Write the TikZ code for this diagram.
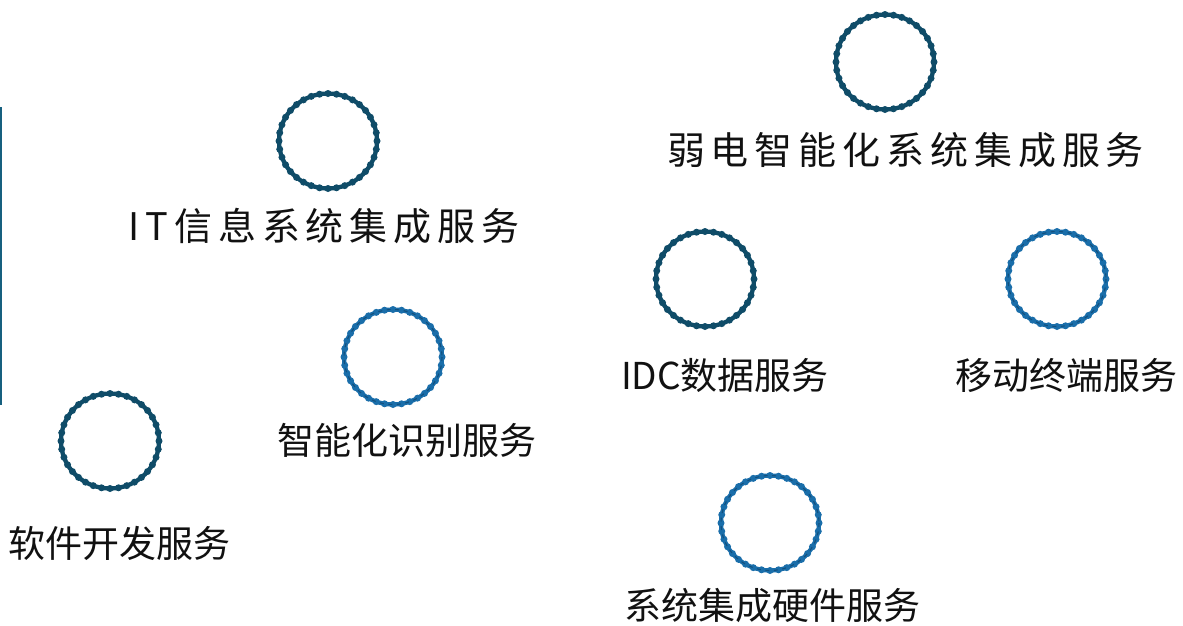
\documentclass[tikz,border=0pt]{standalone}
\usepackage{fontspec}
\setmainfont{Noto Sans CJK SC}
\newfontfamily\cjkls[LetterSpace=15.5]{Noto Sans CJK SC}
\usetikzlibrary{shapes.geometric}
\definecolor{darkc}{HTML}{0F4C68}
\definecolor{bluec}{HTML}{1A6EAA}
\definecolor{bluedk}{HTML}{12507E}
\definecolor{edgec}{HTML}{16607F}
\definecolor{txt}{HTML}{111111}
\tikzset{
  ringshape/.style={ellipse, draw=#1, line width=4.3pt, minimum width=98pt, minimum height=95pt, inner sep=0pt},
  lbl/.style={font=\fontsize{37}{41}\selectfont, text=txt, inner sep=0pt},
  lblwide/.style={font=\cjkls\fontsize{38}{42}\selectfont, text=txt, inner sep=0pt},
}
\newcommand\myring[4]{%
  \node[ringshape=#4] (#1) at (#2,#3) {};
  \foreach \a in {0,10,...,350} \fill[#4] (#2,#3) ++(\a:49 and 47.5) circle (3.5pt);
}
\newcommand\myringb[3]{%
  \myring{#1}{#2}{#3}{bluec}
  \draw[bluedk, line width=1.1pt, dash pattern=on 4pt off 4.5pt] (#2,#3) ellipse (49 and 47.5);
}
\begin{document}
\begin{tikzpicture}[x=1pt,y=-1pt]
\useasboundingbox (0,0) rectangle (1183,625);
\fill[white] (0,0) rectangle (1183,625);
\draw[edgec, line width=2.5pt] (1,107) -- (1,405);

\myring{r1}{328}{141}{darkc}
\myring{r2}{885}{62}{darkc}
\myring{r3}{705}{279}{darkc}
\myringb{r4}{1057}{279}
\myringb{r5}{393}{357}
\myring{r6}{110}{441}{darkc}
\myringb{r7}{770}{523}

\node[lblwide] (t1) at (324,226) {IT信息系统集成服务};
\node[lblwide] (t2) at (905.5,150) {弱电智能化系统集成服务};
\node[lbl] (t3) at (725,375) {IDC数据服务};
\node[lbl] (t4) at (1066.5,375) {移动终端服务};
\node[lbl] (t5) at (407,440) {智能化识别服务};
\node[lbl] (t6) at (119.5,543) {软件开发服务};
\node[lbl] (t7) at (772.5,605) {系统集成硬件服务};
\end{tikzpicture}
\end{document}
